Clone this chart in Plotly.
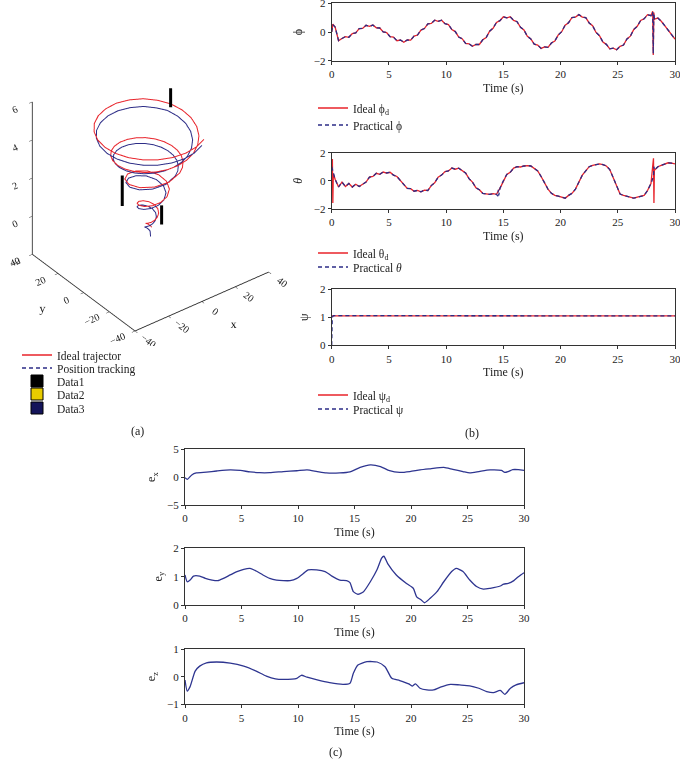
import numpy as np
import plotly.graph_objects as go

W, H = 680, 759
FONT = "Liberation Serif"
RED = "#e8232a"
NAVY = "#2c2c86"
EBLUE = "#2e3590"
AX = "#333333"

# ---------------- time grid for attitude signals (s) ----------------
T = np.round(np.linspace(0, 30, 101), 2)

phi_base = [0.0, 0.35, -0.6, -0.45, -0.32, -0.37, -0.11, -0.06, 0.23, 0.25,
            0.47, 0.39, 0.48, 0.29, 0.28, 0.01, -0.04, -0.33, -0.36, -0.61,
            -0.56, -0.71, -0.555, -0.57, -0.29, -0.21, 0.135, 0.24, 0.56, 0.60,
            0.825, 0.74, 0.82, 0.58, 0.52, 0.17, 0.03, -0.35, -0.47, -0.80,
            -0.82, -1.0, -0.87, -0.87, -0.54, -0.38, 0.06, 0.26, 0.67, 0.79,
            1.06, 0.99, 1.06, 0.81, 0.72, 0.33, 0.14, -0.30, -0.48, -0.85,
            -0.91, -1.14, -1.035, -1.07, -0.77, -0.63, -0.20, 0.02, 0.48, 0.65,
            1.01, 1.04, 1.21, 1.04, 1.0, 0.63, 0.44, -0.03, -0.26, -0.70,
            -0.86, -1.17, -1.13, -1.24, -1.0, -0.91, -0.49, -0.29, 0.18, 0.40,
            0.80, 0.92, 1.21, 1.14, 0.9, 0.97, 0.75, 0.45, 0.15, -0.2,
            -0.5]
phi_ideal_spike_t = [0.1, 28.05, 28.1, 28.15]
phi_ideal_spike_v = [0.55, 1.45, -1.6, 1.35]
phi_prac_spike_t = [0.1, 28.05, 28.1, 28.15]
phi_prac_spike_v = [0.5, 1.4, -1.5, 1.3]

theta_base = [1.0, 0.1, -0.45, -0.1, -0.42, -0.2, -0.45, -0.25, -0.42, -0.25,
              -0.1, 0.25, 0.3, 0.53, 0.45, 0.62, 0.55, 0.6, 0.4, 0.3,
              0.0, -0.25, -0.55, -0.57, -0.75, -0.69, -0.8, -0.67, -0.7, -0.35,
              -0.15, 0.25, 0.4, 0.65, 0.7, 0.9, 0.82, 0.9, 0.7, 0.55,
              0.15, -0.1, -0.5, -0.65, -0.9, -0.92, -0.98, -0.93, -0.97, -0.55,
              0.0, 0.45, 0.6, 0.9, 1.0, 0.98, 1.05, 1.08, 1.05, 0.9,
              0.7, 0.3, -0.15, -0.6, -0.9, -1.05, -1.1, -1.15, -1.25, -1.05,
              -0.9, -0.6, -0.05, 0.4, 0.7, 1.0, 1.1, 1.15, 1.2, 1.15,
              1.05, 0.8, 0.2, -0.45, -0.95, -1.05, -1.1, -1.18, -1.25, -1.18,
              -1.1, -1.05, -0.7, -0.2, 0.75, 1.0, 1.1, 1.2, 1.28, 1.25,
              1.2]
theta_ideal_spike_t = [0.06, 0.1, 0.14, 28.12, 28.16]
theta_ideal_spike_v = [1.55, -1.6, 0.5, 1.6, -1.6]
theta_prac_spike_t = [14.52, 14.56, 14.6, 14.64, 28.12, 28.16]
theta_prac_spike_v = [-1.1, -0.65, -1.05, -0.6, 0.3, 1.0]

psi_ideal_t = [0, 5, 10, 15, 20, 25, 30]
psi_ideal_v = [1.05, 1.05, 1.05, 1.05, 1.05, 1.05, 1.05]
psi_prac_t = [0, 0.05, 0.15, 5, 10, 15, 20, 25, 30]
psi_prac_v = [0.0, 1.0, 1.06, 1.06, 1.05, 1.06, 1.06, 1.05, 1.05]

# ---------------- position errors ----------------
ex_t = [0, 0.2, 0.6, 1.0, 1.9, 2.8, 4.0, 4.9, 5.75, 6.6, 7.5, 8.7, 9.9, 10.8, 11.7,
        12.5, 13.7, 14.6, 15.5, 16.4, 17.3, 18.1, 19.0, 19.9, 20.8, 21.7, 22.9,
        23.7, 24.6, 25.2, 26.1, 27.0, 28.0, 28.3, 28.6, 29.0, 29.5, 30.0]
ex_v = [-0.1, -0.4, 0.4, 0.75, 0.9, 1.1, 1.3, 1.2, 0.95, 0.8, 0.8, 1.0, 1.15, 1.3, 1.0,
        0.75, 0.75, 0.95, 1.75, 2.2, 1.9, 1.15, 0.85, 1.0, 1.3, 1.5, 1.75,
        1.4, 1.0, 0.75, 1.05, 1.3, 1.2, 0.85, 1.0, 1.35, 1.35, 1.2]

ey_t = [0, 0.2, 0.45, 0.75, 1.3, 1.8, 2.4, 2.9, 3.4, 4.0, 4.6, 5.2, 5.75, 6.3, 6.9,
        7.5, 8.1, 8.7, 9.3, 9.9, 10.5, 10.9, 11.65, 12.4, 13.0, 13.7, 14.3, 14.6,
        14.9, 15.3, 15.8, 16.4, 17.0, 17.4, 17.6, 17.95, 18.7, 19.6, 20.2, 20.5,
        20.9, 21.2, 21.7, 22.3, 22.9, 23.6, 24.0, 24.6, 25.2, 25.8, 26.4, 27.0,
        27.9, 28.2, 28.6, 29.1, 29.5, 30.0]
ey_v = [1.06, 0.82, 0.88, 1.02, 1.02, 0.94, 0.88, 0.86, 0.94, 1.06, 1.18, 1.26, 1.29, 1.2, 1.06,
        0.94, 0.88, 0.86, 0.86, 0.94, 1.12, 1.24, 1.24, 1.18, 1.02, 0.88, 0.86, 0.79,
        0.47, 0.38, 0.47, 0.82, 1.25, 1.65, 1.72, 1.45, 1.06, 0.76, 0.59, 0.29,
        0.18, 0.08, 0.24, 0.47, 0.82, 1.18, 1.29, 1.18, 0.88, 0.65, 0.56, 0.59,
        0.67, 0.74, 0.76, 0.86, 1.0, 1.14]

ez_t = [0, 0.2, 0.45, 0.9, 1.3, 1.9, 2.8, 4.0, 5.2, 6.3, 7.2, 8.0, 8.7, 9.9, 10.3,
        10.8, 11.7, 12.8, 14.0, 14.6, 14.9, 15.3, 16.1, 17.0, 17.7, 18.3, 19.0, 19.8,
        20.1, 20.4, 20.8, 21.4, 22.0, 22.6, 23.5, 24.3, 25.2, 26.0, 26.7, 27.3,
        27.9, 28.3, 28.8, 29.3, 30.0]
ez_v = [-0.12, -0.52, -0.36, 0.2, 0.38, 0.5, 0.53, 0.49, 0.38, 0.2, 0.02, -0.08, -0.1, -0.06, 0.05,
        -0.02, -0.12, -0.22, -0.28, -0.24, 0.12, 0.42, 0.54, 0.53, 0.36, -0.06, -0.14, -0.26,
        -0.34, -0.26, -0.42, -0.48, -0.48, -0.38, -0.28, -0.3, -0.33, -0.42, -0.54, -0.58,
        -0.5, -0.64, -0.42, -0.3, -0.22]

# ---------------- 3D trajectories ----------------
ideal_x = [1.30, 0.86, 0.0, -1.08, -2.07, -2.61, -2.45, -1.53, 0.0, 1.75,
           3.39, 4.33, 4.11, 2.58, 0.0, -3.00, -5.56, -6.83, -6.28, -3.83,
           0.0, 4.25, 7.83, 9.58, 8.77, 5.34, 0.0, -5.88, -10.64, -12.83,
           -11.59, -6.96, 0.0,
           7.50, 10.81, 13.49, 15.34, 16.17, 15.90, 14.51, 12.05, 8.67, 4.57,
           0.0, -4.72, -9.25, -13.28, -16.52, -18.72, -19.67, -19.28, -17.54, -14.52,
           -10.42, -5.47, 0.0, 5.62, 11.0, 15.98, 20.09, 22.94, 24.3, 23.96,
           21.91, 18.13, 13.0, 6.80, 0.0, -6.90, -13.4, -19.02, -23.38, -26.18,
           -27.2, -26.32, -23.64, -19.34, -13.7, -7.11, 0.0, 7.12, 13.75]
ideal_y = [0.75, 1.49, 1.94, 1.88, 1.19, 0.0, -1.42, -2.65, -3.28, -3.03,
           -1.96, 0.0, 2.38, 4.47, 5.58, 5.20, 3.21, 0.0, -3.63, -6.64,
           -8.08, -7.36, -4.52, 0.0, 5.07, 9.24, 11.21, 10.18, 6.15, 0.0,
           -6.69, -12.05, -14.46,
           -12.99, -10.81, -7.79, -4.11, 0.0, 4.26, 8.38, 12.05, 15.01, 17.03,
           17.92, 17.59, 16.02, 13.28, 9.54, 5.02, 0.0, -5.17, -10.13, -14.52,
           -18.04, -20.41, -21.42, -20.97, -19.05, -15.98, -11.6, -6.15, 0.0, 6.42,
           12.65, 18.13, 22.52, 25.36, 26.5, 25.74, 23.21, 19.02, 13.5, 7.02,
           0.0, -7.06, -13.65, -19.34, -23.73, -26.52, -27.5, -26.56, -23.82]
ideal_z = [-0.20, -0.12, -0.04, 0.03, 0.11, 0.19, 0.27, 0.34, 0.42, 0.50,
           0.60, 0.70, 0.80, 0.90, 1.00, 1.10, 1.20, 1.30, 1.40, 1.50,
           1.60, 1.70, 1.82, 1.93, 2.05, 2.17, 2.28, 2.40, 2.52, 2.63,
           2.75, 2.87, 2.98,
           3.10, 3.15, 3.20, 3.25, 3.30, 3.35, 3.40, 3.45, 3.50, 3.55,
           3.60, 3.65, 3.70, 3.75, 3.80, 3.85, 3.90, 3.95, 4.00, 4.05,
           4.10, 4.15, 4.20, 4.25, 4.30, 4.40, 4.50, 4.60, 4.70, 4.79,
           4.88, 4.94, 5.00, 5.035, 5.07, 5.085, 5.10, 5.11, 5.12, 5.125,
           5.13, 5.135, 5.14, 5.145, 5.15, 5.155, 5.16, 5.165, 5.17]

track_x = [0.0, 0.1,
           0.67, 0.27, -0.5, -1.47, -2.36, -2.85, -2.71, -1.88, -0.5, 1.08,
           2.55, 3.40, 3.20, 1.82, -0.5, -3.20, -5.50, -6.65, -6.15, -3.95,
           -0.5, 3.33, 6.55, 8.12, 7.39, 4.31, -0.5, -5.79, -10.08, -12.05,
           -10.93, -6.76, -0.5,
           6.25, 9.23, 11.64, 13.30, 14.05, 13.81, 12.56, 10.35, 7.30, 3.61,
           -0.5, -4.75, -8.83, -12.46, -15.37, -17.35, -18.20, -17.85, -16.29, -13.57,
           -9.88, -5.43, -0.5, 4.56, 9.40, 13.88, 17.58, 20.15, 21.37, 21.06,
           19.22, 16.4, 12.48, 6.53, 0.0, -6.63, -12.86, -18.26, -22.44, -25.13,
           -26.11, -25.27, -22.69, -18.57, -13.15, -6.82, 0.0, 6.84, 13.2]
track_y = [0.0, 0.2,
           1.18, 1.84, 2.25, 2.19, 1.57, 0.5, -0.78, -1.89, -2.45, -2.23,
           -1.26, 0.5, 2.64, 4.52, 5.52, 5.18, 3.39, 0.5, -2.77, -5.48,
           -6.77, -6.12, -3.57, 0.5, 5.06, 8.82, 10.59, 9.66, 6.04, 0.5,
           -5.52, -10.35, -12.51,
           -11.19, -9.23, -6.51, -3.20, 0.5, 4.34, 8.04, 11.35, 14.01, 15.83,
           16.63, 16.33, 14.92, 12.46, 9.09, 5.02, 0.5, -4.15, -8.62, -12.57,
           -15.74, -17.87, -18.78, -18.37, -16.65, -13.88, -9.94, -5.04, 0.5, 6.28,
           11.89, 16.9, 21.62, 24.34, 25.44, 24.71, 22.28, 18.26, 12.96, 6.74,
           0.0, -6.78, -13.1, -18.57, -22.78, -25.45, -26.4, -25.5, -22.87]
track_z = [-0.6, -0.5,
           -0.40, -0.32, -0.24, -0.17, -0.09, -0.01, 0.07, 0.14, 0.22, 0.30,
           0.40, 0.50, 0.60, 0.70, 0.80, 0.90, 1.00, 1.10, 1.20, 1.30,
           1.40, 1.50, 1.62, 1.73, 1.85, 1.97, 2.08, 2.20, 2.32, 2.43,
           2.55, 2.67, 2.78,
           2.90, 2.95, 3.00, 3.05, 3.10, 3.15, 3.20, 3.25, 3.30, 3.35,
           3.40, 3.45, 3.50, 3.55, 3.60, 3.65, 3.70, 3.75, 3.80, 3.85,
           3.90, 3.95, 4.00, 4.05, 4.10, 4.20, 4.30, 4.40, 4.50, 4.59,
           4.68, 4.67, 4.66, 4.69, 4.72, 4.74, 4.75, 4.76, 4.77, 4.775,
           4.78, 4.785, 4.79, 4.795, 4.80, 4.805, 4.81, 4.815, 4.82]

# vertical markers (Data1): x, y, z-bottom, z-top
marker_x = [19.0, -15.4, 4.5]
marker_y = [9.0, 2.0, -2.8]
marker_z0 = [5.0, 1.5, 0.0]
marker_z1 = [6.0, 3.1, 1.0]


def merged(t, v, et, ev):
    tt = np.concatenate([np.asarray(t, float), np.asarray(et, float)])
    vv = np.concatenate([np.asarray(v, float), np.asarray(ev, float)])
    o = np.argsort(tt, kind="stable")
    return tt[o], vv[o]


fig = go.Figure()

# 3D trajectory
fig.add_trace(go.Scatter3d(x=ideal_x, y=ideal_y, z=ideal_z, mode="lines",
                           line=dict(color=RED, width=2), showlegend=False))
fig.add_trace(go.Scatter3d(x=track_x, y=track_y, z=track_z, mode="lines",
                           line=dict(color=NAVY, width=2), showlegend=False))
bx, by, bz = [], [], []
for i in range(len(marker_x)):
    bx += [marker_x[i], marker_x[i], None]
    by += [marker_y[i], marker_y[i], None]
    bz += [marker_z0[i], marker_z1[i], None]
fig.add_trace(go.Scatter3d(x=bx, y=by, z=bz, mode="lines",
                           line=dict(color="black", width=6), showlegend=False))

# legend (a) entries, one legend per entry so rows can sit close together
fig.add_trace(go.Scatter(x=[None], y=[None], mode="lines", name="Ideal trajector",
                         line=dict(color=RED, width=1.3), legend="legend"))
fig.add_trace(go.Scatter(x=[None], y=[None], mode="lines", name="Position tracking",
                         line=dict(color=NAVY, width=1.3, dash="4px,3px"), legend="legend2"))
for nm, col, lg in [("Data1", "#000000", "legend3"), ("Data2", "#e8cc00", "legend4"),
                    ("Data3", "#14145a", "legend5")]:
    fig.add_trace(go.Bar(x=[None], y=[None], name=nm, legend=lg,
                         marker=dict(color=col, line=dict(color="black", width=1))))

# phi
t1, v1 = merged(T, phi_base, phi_ideal_spike_t, phi_ideal_spike_v)
t2, v2 = merged(T, phi_base, phi_prac_spike_t, phi_prac_spike_v)
fig.add_trace(go.Scatter(x=t1, y=v1, mode="lines", name="Ideal ϕ<sub>d</sub>",
                         line=dict(color=RED, width=1.3), xaxis="x", yaxis="y", legend="legend6"))
fig.add_trace(go.Scatter(x=t2, y=v2, mode="lines", name="Practical ϕ",
                         line=dict(color=NAVY, width=1.3, dash="4px,3px"), xaxis="x", yaxis="y",
                         legend="legend7"))
# theta
t1, v1 = merged(T, theta_base, theta_ideal_spike_t, theta_ideal_spike_v)
t2, v2 = merged(T, theta_base, theta_prac_spike_t, theta_prac_spike_v)
fig.add_trace(go.Scatter(x=t1, y=v1, mode="lines", name="Ideal θ<sub>d</sub>",
                         line=dict(color=RED, width=1.3), xaxis="x2", yaxis="y2", legend="legend8"))
fig.add_trace(go.Scatter(x=t2, y=v2, mode="lines", name="Practical <i>θ</i>",
                         line=dict(color=NAVY, width=1.3, dash="4px,3px"), xaxis="x2", yaxis="y2",
                         legend="legend9"))
# psi
fig.add_trace(go.Scatter(x=psi_ideal_t, y=psi_ideal_v, mode="lines", name="Ideal ψ<sub>d</sub>",
                         line=dict(color=RED, width=1.3), xaxis="x3", yaxis="y3", legend="legend10"))
fig.add_trace(go.Scatter(x=psi_prac_t, y=psi_prac_v, mode="lines", name="Practical ψ",
                         line=dict(color=NAVY, width=1.3, dash="4px,3px"), xaxis="x3", yaxis="y3",
                         legend="legend11"))
# errors
for xa, ya, tt, vv in [("x4", "y4", ex_t, ex_v), ("x5", "y5", ey_t, ey_v), ("x6", "y6", ez_t, ez_v)]:
    fig.add_trace(go.Scatter(x=tt, y=vv, mode="lines", line=dict(color=EBLUE, width=1.3, shape="spline",
                                                                  smoothing=0.6),
                             xaxis=xa, yaxis=ya, showlegend=False))

tickfont = dict(family=FONT, size=11, color="#222")
titlefont = dict(family=FONT, size=12, color="#222")


def xax(domain, anchor):
    return dict(domain=domain, anchor=anchor, range=[0, 30], tickvals=[0, 5, 10, 15, 20, 25, 30],
                showline=True, linecolor=AX, linewidth=1, mirror=True, ticks="outside", ticklen=3,
                tickcolor=AX, showgrid=False, zeroline=False, tickfont=tickfont, automargin=False,
                ticklabeloverflow="allow",
                title=dict(text="Time (s)", font=titlefont, standoff=4))


def yax(domain, anchor, rng, tv, title):
    return dict(domain=domain, anchor=anchor, range=rng, tickvals=tv,
                showline=True, linecolor=AX, linewidth=1, mirror=True, ticks="outside", ticklen=3,
                tickcolor=AX, showgrid=False, zeroline=False, tickfont=tickfont, automargin=False,
                ticklabeloverflow="allow",
                title=dict(text=title, font=titlefont, standoff=8))


XD_B = [331.7 / W, 675 / W]
XD_C = [185 / W, 524 / W]


def yd(top, bottom):
    return [1 - bottom / H, 1 - top / H]


ax3 = dict(showbackground=False, showgrid=False, zeroline=False, showline=True, linecolor=AX,
           linewidth=2, ticks="outside", tickcolor=AX, ticklen=4, showspikes=False,
           tickfont=tickfont)

legfont = dict(family=FONT, size=11.5, color="#222")


def leg(xpx, ypx):
    return dict(font=legfont, bgcolor="rgba(0,0,0,0)", xanchor="left", yanchor="middle",
                x=xpx / W, y=1 - ypx / H, itemwidth=30, tracegroupgap=0)


fig.update_layout(
    width=W, height=H, margin=dict(l=0, r=0, t=0, b=0, autoexpand=False),
    paper_bgcolor="white", plot_bgcolor="white", showlegend=True,
    xaxis=xax(XD_B, "y"), yaxis=yax(yd(3.3, 60.7), "x", [-2, 2], [-2, 0, 2], "ϕ"),
    xaxis2=xax(XD_B, "y2"), yaxis2=yax(yd(152.7, 208.7), "x2", [-2, 2], [-2, 0, 2], "<i>θ</i>"),
    xaxis3=xax(XD_B, "y3"), yaxis3=yax(yd(289.3, 345.3), "x3", [0, 2], [0, 1, 2], "ψ"),
    xaxis4=xax(XD_C, "y4"), yaxis4=yax(yd(449.3, 505), "x4", [-5, 5], [-5, 0, 5], "e<sub>x</sub>"),
    xaxis5=xax(XD_C, "y5"), yaxis5=yax(yd(548.3, 605), "x5", [0, 2], [0, 1, 2], "e<sub>y</sub>"),
    xaxis6=xax(XD_C, "y6"), yaxis6=yax(yd(649, 704.3), "x6", [-1, 1], [-1, 0, 1], "e<sub>z</sub>"),
    scene=dict(
        domain=dict(x=[0.0, 301 / W], y=yd(28, 346)),
        xaxis=dict(ax3, range=[-40, 40], tickvals=[-40, -20, 0, 20, 40], title=dict(text="x", font=titlefont)),
        yaxis=dict(ax3, range=[-40, 40], tickvals=[-40, -20, 0, 20, 40], title=dict(text="y", font=titlefont)),
        zaxis=dict(ax3, range=[-2, 6], tickvals=[-2, 0, 2, 4, 6], title=dict(text="z", font=titlefont)),
        aspectmode="manual", aspectratio=dict(x=1.06, y=1.06, z=1.17),
        camera=dict(projection=dict(type="orthographic"), up=dict(x=0, y=0, z=1),
                    center=dict(x=0, y=0, z=0), eye=dict(x=-0.998, y=-1.299, z=1.147)),
        bgcolor="white",
    ),
    legend=leg(17, 355), legend2=leg(17, 368), legend3=leg(17, 381), legend4=leg(17, 394),
    legend5=leg(17, 408),
    legend6=leg(313, 108), legend7=leg(313, 125),
    legend8=leg(313, 253), legend9=leg(313, 267),
    legend10=leg(313, 395), legend11=leg(313, 409),
    annotations=[
        dict(text="(a)", x=137 / W, y=1 - 431 / H, xref="paper", yref="paper", showarrow=False,
             xanchor="center", yanchor="middle", font=dict(family=FONT, size=12, color="#222")),
        dict(text="(b)", x=472 / W, y=1 - 433 / H, xref="paper", yref="paper", showarrow=False,
             xanchor="center", yanchor="middle", font=dict(family=FONT, size=12, color="#222")),
        dict(text="(c)", x=335 / W, y=1 - 752 / H, xref="paper", yref="paper", showarrow=False,
             xanchor="center", yanchor="middle", font=dict(family=FONT, size=12, color="#222")),
    ],
)

fig.write_html("out.html", config={"displayModeBar": False},
               post_script="document.body.style.margin='0';document.body.style.overflow='hidden';")
